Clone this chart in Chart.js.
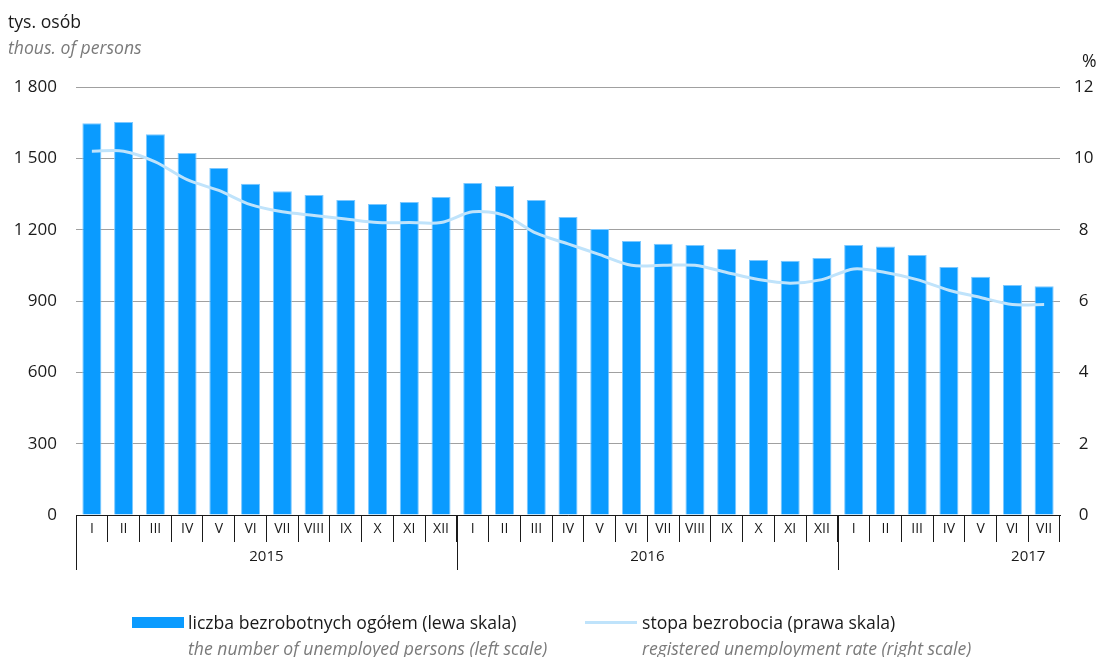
<!DOCTYPE html>
<html>
<head>
<meta charset="utf-8">
<script src="https://cdn.jsdelivr.net/npm/chart.js@4"></script>
<style>
    body { margin: 0; background: #fff; font-family: 'Open Sans', sans-serif; }
    #wrap { position: relative; width: 1103px; height: 657px; overflow: hidden; }
    canvas { position: absolute; left: 0; top: 0; }
    .txt { position: absolute; white-space: nowrap; font-size: 17.6px; line-height: 24px; color: #1a1a1a; }
    .it { font-style: italic; color: #7a7a7a; }
    .swatch { position: absolute; }
</style>
</head>
<body>
<div id="wrap">
    <canvas id="chart" width="1103" height="657"></canvas>
    <div class="txt" style="left:8px;top:9px;">tys. osób</div>
    <div class="txt it" style="left:8px;top:35px;">thous. of persons</div>
    <div class="txt" style="left:1082px;top:48px;">%</div>

    <div class="swatch" style="left:132px;top:617px;width:52px;height:11px;background:#0a9bff;"></div>
    <div class="txt" style="left:188px;top:610px;">liczba bezrobotnych ogółem (lewa skala)</div>
    <div class="txt it" style="left:188px;top:636px;">the number of unemployed persons (left scale)</div>

    <div class="swatch" style="left:585px;top:621px;width:52px;height:3px;background:#bfe3fb;"></div>
    <div class="txt" style="left:642px;top:610px;">stopa bezrobocia (prawa skala)</div>
    <div class="txt it" style="left:642px;top:636px;">registered unemployment rate (right scale)</div>
</div>
<script>
// months and years (Jan 2015 - Jul 2017)
const MONTHS = ['I', 'II', 'III', 'IV', 'V', 'VI', 'VII', 'VIII', 'IX', 'X', 'XI', 'XII',
    'I', 'II', 'III', 'IV', 'V', 'VI', 'VII', 'VIII', 'IX', 'X', 'XI', 'XII',
    'I', 'II', 'III', 'IV', 'V', 'VI', 'VII'];
const YEARS = ['2015', '2016', '2017'];
const YEAR_START = [0, 12, 24];

// unemployed persons, thousands (left scale)
const UNEMPLOYED = [1648, 1653, 1601, 1522, 1459, 1393, 1362, 1346, 1325, 1308, 1316, 1337,
    1396, 1384, 1325, 1253, 1203, 1152, 1141, 1136, 1119, 1072, 1069, 1081,
    1135, 1129, 1093, 1043, 1002, 967, 962];

// registered unemployment rate, % (right scale)
const RATE = [10.2, 10.2, 9.9, 9.4, 9.1, 8.7, 8.5, 8.4, 8.3, 8.2, 8.2, 8.2,
    8.5, 8.4, 7.9, 7.6, 7.3, 7.0, 7.0, 7.0, 6.8, 6.6, 6.5, 6.6,
    6.9, 6.8, 6.6, 6.3, 6.1, 5.9, 5.9];

const LEFT_TICKS = [0, 300, 600, 900, 1200, 1500, 1800];
const RIGHT_TICKS = [0, 2, 4, 6, 8, 10, 12];

const FONT = "'Open Sans', sans-serif";

function fmtThousands(v) {
    if (v < 1000) return String(v);
    return Math.floor(v / 1000) + ' ' + String(v % 1000).padStart(3, '0');
}

// year row under the month labels
const yearRow = {
    id: 'yearRow',
    afterDraw(chart) {
        const x = chart.scales.x;
        const ctx = chart.ctx;
        const step = x.getPixelForValue(1) - x.getPixelForValue(0);
        const top = chart.chartArea.bottom;
        ctx.save();
        ctx.strokeStyle = '#1a1a1a';
        ctx.lineWidth = 1;
        YEAR_START.forEach((start, i) => {
            const px = Math.round(x.getPixelForValue(start) - step / 2) + 0.5;
            ctx.beginPath();
            ctx.moveTo(px, top);
            ctx.lineTo(px, top + 55);
            ctx.stroke();
            // label centred on a full 12-month span
            const mid = x.getPixelForValue(start + 5.5);
            ctx.fillStyle = '#1a1a1a';
            ctx.font = '15px ' + FONT;
            ctx.textAlign = 'center';
            ctx.textBaseline = 'middle';
            ctx.fillText(YEARS[i], mid, top + 42);
        });
        ctx.restore();
    }
};

const ctx = document.getElementById('chart').getContext('2d');
new Chart(ctx, {
    data: {
        labels: MONTHS,
        datasets: [
            {
                type: 'line',
                label: 'stopa bezrobocia',
                data: RATE,
                yAxisID: 'y2',
                borderColor: '#bfe3fb',
                borderWidth: 3,
                pointRadius: 0,
                tension: 0.3,
                fill: false,
                order: 0
            },
            {
                type: 'bar',
                label: 'liczba bezrobotnych',
                data: UNEMPLOYED,
                yAxisID: 'y',
                backgroundColor: '#0a9bff',
                borderColor: '#7cc8ff',
                borderWidth: 1,
                barPercentage: 0.6,
                categoryPercentage: 1,
                order: 1
            }
        ]
    },
    options: {
        responsive: false,
        animation: false,
        layout: { padding: { top: 87, bottom: 82, left: 0, right: 0 } },
        plugins: {
            legend: { display: false },
            tooltip: { enabled: false }
        },
        scales: {
            x: {
                offset: true,
                grid: {
                    offset: true,
                    drawOnChartArea: false,
                    tickLength: 27,
                    color: '#1a1a1a',
                    lineWidth: 1
                },
                border: { display: true, color: '#1a1a1a', width: 1 },
                ticks: {
                    autoSkip: false,
                    maxRotation: 0,
                    padding: -21,
                    color: '#1a1a1a',
                    font: { family: FONT, size: 14 }
                },
                afterFit: s => { s.height = 60; }
            },
            y: {
                position: 'left',
                min: 0,
                max: 1800,
                afterBuildTicks: s => { s.ticks = LEFT_TICKS.map(v => ({ value: v })); },
                grid: { color: '#a0a0a0', lineWidth: 1, drawTicks: false },
                border: { display: false },
                ticks: {
                    padding: 19,
                    color: '#1a1a1a',
                    font: { family: FONT, size: 17 },
                    callback: v => fmtThousands(v)
                },
                afterFit: s => { s.width = 76; }
            },
            y2: {
                position: 'right',
                min: 0,
                max: 12,
                afterBuildTicks: s => { s.ticks = RIGHT_TICKS.map(v => ({ value: v })); },
                grid: { drawOnChartArea: false, drawTicks: false },
                border: { display: false },
                ticks: {
                    padding: 14,
                    crossAlign: 'center',
                    color: '#1a1a1a',
                    font: { family: FONT, size: 17 }
                },
                afterFit: s => { s.width = 43; }
            }
        }
    },
    plugins: [yearRow]
});
</script>
</body>
</html>
